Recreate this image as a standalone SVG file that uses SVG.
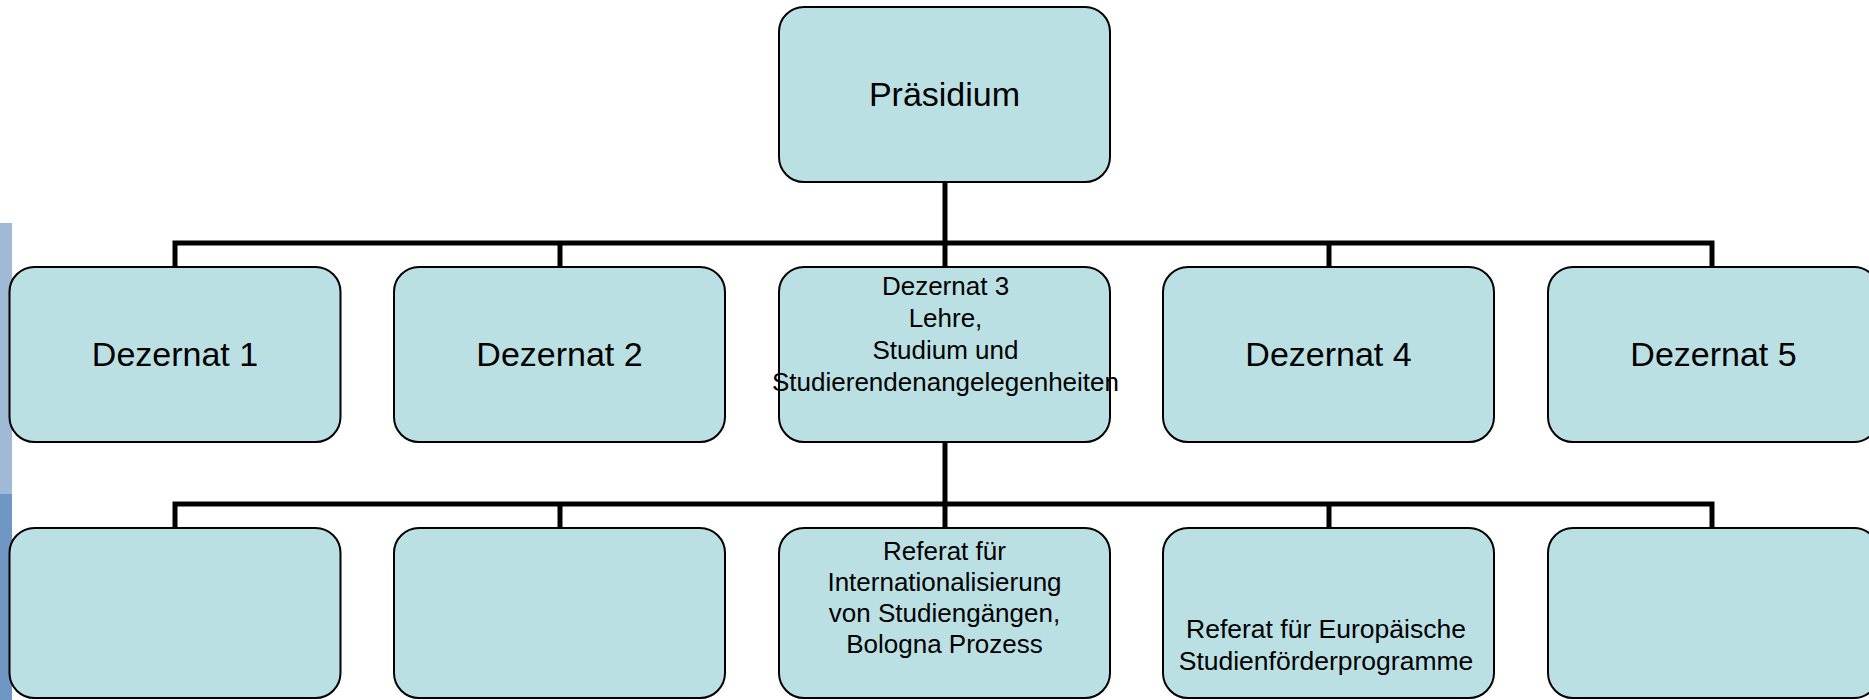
<svg xmlns="http://www.w3.org/2000/svg" width="1869" height="700" viewBox="0 0 1869 700">
<style>
.box{fill:#bbe0e3;stroke:#000;stroke-width:2}
.conn{fill:none;stroke:#000;stroke-width:5;stroke-linejoin:miter}
.big{font-family:"Liberation Sans",Arial,sans-serif;font-size:34px;fill:#000;text-anchor:middle}
.small{font-family:"Liberation Sans",Arial,sans-serif;font-size:26px;fill:#000;text-anchor:middle}
</style>
<rect width="1869" height="700" fill="#fff"/>
<rect x="0" y="223" width="12" height="271" fill="#a0b9d6"/>
<rect x="0" y="494" width="12" height="206" fill="#7097c3"/>
<g id="connectors">
<path class="conn" d="M945 182 V528"/>
<path class="conn" d="M175 267 V243 H1712 V267"/>
<path class="conn" d="M560 243 V267 M1329 243 V267"/>
<path class="conn" d="M175 528 V504 H1712 V528"/>
<path class="conn" d="M560 504 V528 M1329 504 V528"/>
</g>
<g id="praesidium">
<rect class="box" x="779" y="7" width="331" height="175" rx="25"/>
<text class="big" x="944.5" y="106">Präsidium</text>
</g>
<g id="dezernat1">
<rect class="box" x="9.5" y="267" width="331" height="175" rx="25"/>
<text class="big" x="175" y="366">Dezernat 1</text>
</g>
<g id="dezernat2">
<rect class="box" x="394" y="267" width="331" height="175" rx="25"/>
<text class="big" x="559.5" y="366">Dezernat 2</text>
</g>
<g id="dezernat3">
<rect class="box" x="779" y="267" width="331" height="175" rx="25"/>
<text class="small" x="945.5" y="295">Dezernat 3</text>
<text class="small" x="945.5" y="327">Lehre,</text>
<text class="small" x="945.5" y="359">Studium und</text>
<text class="small" x="945.5" y="391">Studierendenangelegenheiten</text>
</g>
<g id="dezernat4">
<rect class="box" x="1163" y="267" width="331" height="175" rx="25"/>
<text class="big" x="1328.5" y="366">Dezernat 4</text>
</g>
<g id="dezernat5">
<rect class="box" x="1548" y="267" width="331" height="175" rx="25"/>
<text class="big" x="1713.5" y="366">Dezernat 5</text>
</g>
<g id="referat1">
<rect class="box" x="9.5" y="528" width="331" height="170" rx="25"/>
</g>
<g id="referat2">
<rect class="box" x="394" y="528" width="331" height="170" rx="25"/>
</g>
<g id="referat3">
<rect class="box" x="779" y="528" width="331" height="170" rx="25"/>
<text class="small" x="944.5" y="560">Referat für</text>
<text class="small" x="944.5" y="591">Internationalisierung</text>
<text class="small" x="944.5" y="622">von Studiengängen,</text>
<text class="small" x="944.5" y="653">Bologna Prozess</text>
</g>
<g id="referat4">
<rect class="box" x="1163" y="528" width="331" height="170" rx="25"/>
<text class="small" x="1326" y="638" style="font-size:26.5px">Referat für Europäische</text>
<text class="small" x="1326" y="670" style="font-size:26.5px">Studienförderprogramme</text>
</g>
<g id="referat5">
<rect class="box" x="1548" y="528" width="331" height="170" rx="25"/>
</g>
</svg>
